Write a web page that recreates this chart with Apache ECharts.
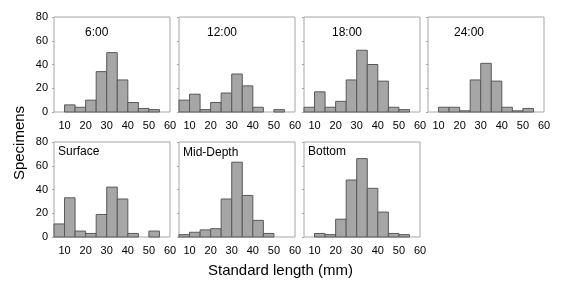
<!DOCTYPE html>
<html>
<head>
<meta charset="utf-8">
<script src="https://cdn.jsdelivr.net/npm/echarts@6/dist/echarts.min.js"></script>
<style>
  html, body { margin: 0; padding: 0; background: #fff; }
  #chart { width: 561px; height: 283px; }
</style>
</head>
<body>
<div id="chart"></div>
<script>
// histogram bins (start of each 5 mm class)
var binStarts = [5, 10, 15, 20, 25, 30, 35, 40, 45, 50, 55];
var binW = 5;
var xTicks = [10, 20, 30, 40, 50, 60];
var yTicks = [0, 20, 40, 60, 80];

// counts per panel, one value per bin
var panelNames = ['6:00', '12:00', '18:00', '24:00', 'Surface', 'Mid-Depth', 'Bottom'];
var c0600    = [0, 6, 4, 10, 34, 50, 27, 8, 3, 2, 0];
var c1200    = [10, 15, 2, 8, 16, 32, 22, 4, 0, 2, 0];
var c1800    = [4, 17, 4, 9, 27, 52, 40, 26, 4, 2, 0];
var c2400    = [0, 4, 4, 1, 27, 41, 26, 4, 1, 3, 0];
var cSurface = [11, 33, 5, 3, 19, 42, 32, 3, 0, 5, 0];
var cMid     = [2, 4, 6, 7, 32, 63, 35, 14, 3, 0, 0];
var cBottom  = [0, 3, 2, 15, 48, 66, 41, 21, 3, 2, 0];
var panelCounts = [c0600, c1200, c1800, c2400, cSurface, cMid, cBottom];

var chart = echarts.init(document.getElementById('chart'));

var colLeft = [54, 179, 304, 428];
var rowTop = [17, 142];
var panelW = 116, panelH = 95;
var font = 'Liberation Sans, Arial, sans-serif';

var grids = [], xAxes = [], yAxes = [], series = [], texts = [];

function renderBar(params, api) {
    var x0 = api.value(0);
    var v = api.value(1);
    var p0 = api.coord([x0, v]);
    var p1 = api.coord([x0 + binW, 0]);
    return {
        type: 'rect',
        shape: { x: p0[0], y: p0[1], width: p1[0] - p0[0], height: p1[1] - p0[1] },
        style: { fill: '#a6a6a6', stroke: '#595959', lineWidth: 1 }
    };
}

for (var i = 0; i < panelCounts.length; i++) {
    var row = i < 4 ? 0 : 1;
    var col = i < 4 ? i : i - 4;
    grids.push({
        left: colLeft[col], top: rowTop[row], width: panelW, height: panelH,
        show: true, borderColor: '#a6a6a6', borderWidth: 1, backgroundColor: 'transparent'
    });
    xAxes.push({
        type: 'value', gridIndex: i, min: 5, max: 60,
        axisLine: { show: false },
        axisTick: { show: false },
        splitLine: { show: false },
        axisLabel: {
            customValues: xTicks, margin: 8,
            color: '#000', fontSize: 11, fontFamily: font
        }
    });
    yAxes.push({
        type: 'value', gridIndex: i, min: 0, max: 80, interval: 20,
        axisLine: { show: false },
        axisTick: { show: true, length: 2, lineStyle: { color: '#a6a6a6' } },
        splitLine: { show: false },
        axisLabel: {
            show: col === 0, margin: 6,
            color: '#000', fontSize: 11, fontFamily: font
        }
    });
    var data = [];
    for (var j = 0; j < binStarts.length; j++) {
        if (panelCounts[i][j] > 0) data.push([binStarts[j], panelCounts[i][j]]);
    }
    series.push({
        type: 'custom', xAxisIndex: i, yAxisIndex: i,
        renderItem: renderBar, data: data, silent: true
    });
}

// panel labels
var labelPos = [[85, 34], [207, 34], [332, 34], [454, 34], [58, 153], [183, 154], [308, 153]];
for (var k = 0; k < panelNames.length; k++) {
    texts.push({
        type: 'text', left: labelPos[k][0], top: labelPos[k][1] - 7,
        style: { text: panelNames[k], fill: '#000', fontSize: 12, fontFamily: font }
    });
}
texts.push({
    type: 'text', left: 'center', top: 263,
    style: { text: 'Standard length (mm)', fill: '#000', fontSize: 15, fontFamily: font },
    x: 0
});
texts.push({
    type: 'text', x: 20, y: 143, rotation: Math.PI / 2,
    style: { text: 'Specimens', fill: '#000', fontSize: 15, fontFamily: font, align: 'center', verticalAlign: 'middle' }
});

var option = {
    animation: false,
    grid: grids,
    xAxis: xAxes,
    yAxis: yAxes,
    series: series,
    graphic: texts
};
chart.setOption(option);
</script>
</body>
</html>
